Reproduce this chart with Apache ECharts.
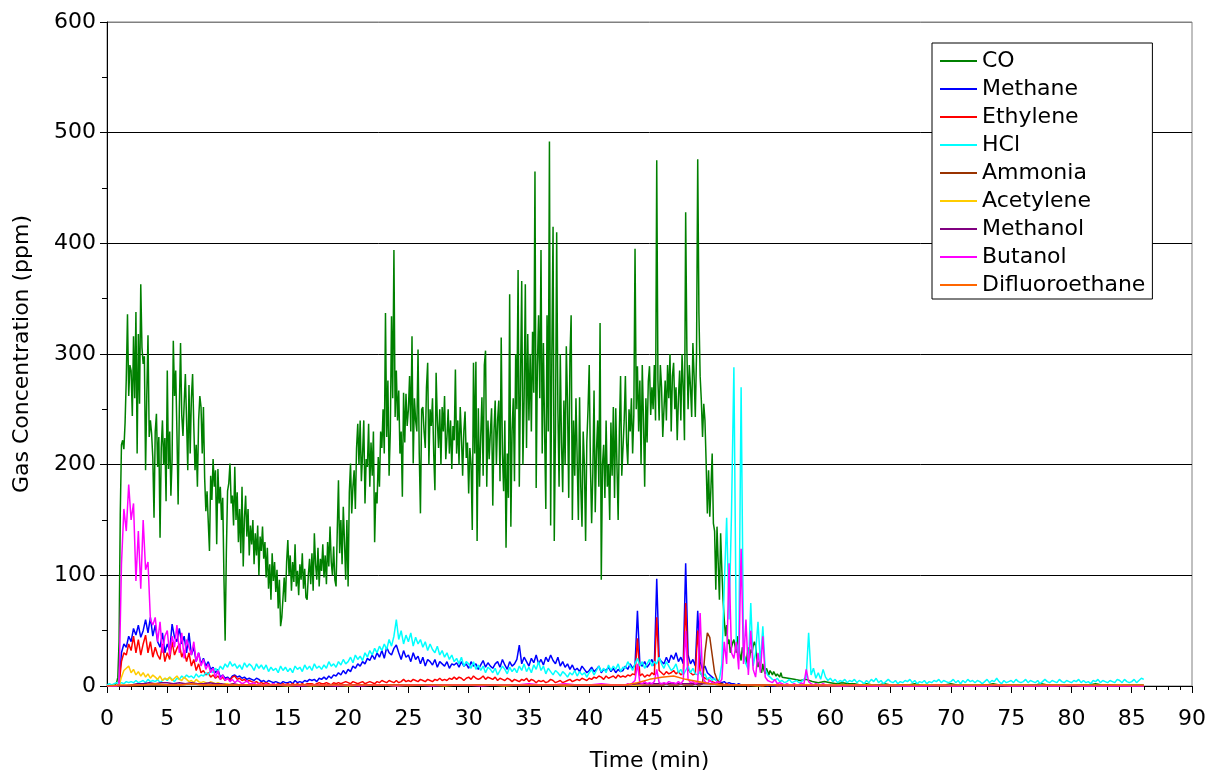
<!DOCTYPE html>
<html>
<head>
<meta charset="utf-8">
<script src="https://cdn.jsdelivr.net/npm/echarts@6/dist/echarts.min.js"></script>
<style>html,body{margin:0;padding:0;background:#fff}#c{width:1206px;height:774px}</style>
</head>
<body>
<div id="c"></div>
<script>
// ---- data (ppm), time in minutes ----
const SERIES_NAMES = ['CO','Methane','Ethylene','HCl','Ammonia','Acetylene','Methanol','Butanol','Difluoroethane'];
const X_TICKS = [0,5,10,15,20,25,30,35,40,45,50,55,60,65,70,75,80,85,90];

// CO: 0.0 - 56.0 min every 0.1 min
const CO_A = [
0,0,0,0,0,0,0,1,3,8,
40,155,218,222,214,238,278,336,262,290,
285,244,316,260,338,210,318,255,363,306,
291,298,195,262,317,225,240,228,206,152,
230,246,198,225,134,215,240,200,224,167,
285,196,230,172,205,312,262,285,230,164,
250,310,245,226,255,282,240,195,272,210,
260,282,235,195,218,180,240,262,252,210,
252,188,158,176,148,122,190,168,205,180,
195,128,196,165,180,150,170,98,41,120,
176,183,201,165,172,145,198,150,175,130,
160,120,180,108,152,172,135,160,118,145,
128,150,110,138,118,145,100,135,122,144,
115,130,98,125,88,110,78,120,95,112,
85,105,70,96,54,62,80,98,76,112,
132,100,118,86,112,94,128,90,104,82,
110,96,120,88,106,80,78,100,115,92,
120,86,138,110,96,125,90,115,104,128,
98,118,92,130,108,144,112,100,126,96,
90,140,186,120,150,110,162,130,96,150,
90,175,201,156,180,195,160,215,237,200,
240,185,210,240,165,205,198,237,180,220,
190,230,130,175,165,207,180,230,215,250,
210,337,225,276,190,230,334,260,394,243,
285,240,267,210,230,171,265,220,264,235,
250,280,230,316,201,260,240,230,304,210,
156,250,252,230,215,270,292,200,250,235,
260,210,177,283,240,215,250,200,252,230,
262,205,225,250,210,240,196,235,222,286,
210,240,200,252,225,190,230,248,206,220,
174,215,200,141,292,210,293,131,251,180,
225,261,190,290,303,180,240,205,229,251,
163,230,258,200,240,258,185,315,210,176,
240,125,210,170,354,144,230,260,185,300,
250,376,180,275,366,200,260,363,215,318,
240,300,230,320,265,465,179,290,335,260,
394,210,310,230,160,335,230,492,145,300,
415,131,230,410,250,180,300,220,175,258,
200,307,255,170,297,335,150,240,190,260,
205,150,261,180,144,230,200,131,220,250,
290,200,147,193,267,157,212,240,180,328,
96,200,218,170,240,180,200,150,238,190,
252,170,251,200,150,230,280,190,215,240,
280,220,200,250,230,260,210,245,395,250,
289,230,276,200,290,240,180,260,220,275,
289,245,270,250,290,240,475,276,240,290,
270,225,250,276,240,290,260,300,230,280,
292,250,270,222,260,285,240,300,270,222,
428,304,250,290,270,243,310,280,243,300,
476,337,280,258,225,255,240,201,156,195,
153,180,210,147,140,87,144,111,78,138,
105,78,60,45,55,38,42,30,35,39,
42,36,30,45,36,28,23,35,30,26,
20,28,35,25,33,30,36,40,36,25,
17,22,15,12,20,14,11,16,13,10,
14,12,10,13,11,9,11,10,8,12,
8];
// CO: 56.5 - 86.0 min every 0.5 min
const CO_B = [
7,6,5,6,4,3,4,3,2,3,
2,2,1,2,1,1,2,1,1,1,
1,2,1,1,1,1,1,2,1,1,
1,1,1,1,2,1,1,1,1,1,
1,1,2,1,1,1,1,1,1,1,
1,2,1,1,1,1,1,1,1,1];

// Methane: 0.0 - 56.0 every 0.2 min
const METHANE_A = [
0,0,0,0,0, 2,30,38,35,45, 40,52,46,55,44, 50,60,48,62,45, 55,40,35,48,30,
38,32,56,44,40, 52,38,45,30,48, 28,35,22,30,20, 25,18,22,15,17, 12,15,8,10,7,
8,6,9,10,8, 9,7,8,6,7, 6,5,7,6,4, 5,3,5,4,3, 4,3,2,4,3,
3,4,2,5,3, 4,3,5,4,6, 5,6,4,7,6, 8,6,9,7,10, 9,12,10,14,11,
15,13,18,16,20, 18,22,20,25,23, 28,24,30,26,32, 25,35,30,28,34, 37,30,24,32,26,
28,22,30,24,27, 20,26,18,24,22, 19,24,17,22,20, 18,22,16,20,19, 21,17,22,18,20,
16,22,18,20,15, 19,23,17,21,18, 16,20,22,17,24, 19,15,22,18,20, 24,37,20,26,22,
18,25,21,28,20, 24,19,26,22,28, 23,20,26,18,22, 17,20,15,19,14, 16,13,18,15,12,
14,17,13,15,18, 12,15,14,17,13, 16,12,15,13,14, 18,15,20,16,19, 68,20,18,22,17,
20,24,18,97,25, 22,20,26,21,28, 24,30,22,26,20, 111,28,20,24,18, 68,22,15,18,12,
10,8,6,5,4, 3,4,2,3,2, 2,1,2,1,1, 1,1,1,1,1, 1,0,1,1,0, 1,0,0,1,0,
0];
// Methane: 57 - 86 every 1 min
const METHANE_B = [0,0,1,0,0,0,0,1,0,0, 0,0,0,1,0,0,0,0,0,0, 1,0,0,0,0,0,0,1,0,0];

// Ethylene: 0.0 - 56.0 every 0.2 min
const ETHYLENE_A = [
0,0,0,0,0, 1,22,30,28,38, 32,45,30,42,28, 38,46,30,40,26, 35,28,24,38,22,
30,24,40,28,34, 38,26,32,22,30, 18,24,14,20,12, 14,10,12,8,10, 7,9,6,8,5,
7,5,8,9,6, 7,5,6,4,5, 4,3,4,2,3, 2,3,2,1,2, 1,2,1,2,1,
2,1,2,1,2, 1,2,1,2,2, 2,1,2,3,2, 2,3,2,1,3, 2,3,2,3,4,
3,2,4,3,2, 3,4,2,3,4, 3,2,4,3,5, 4,3,5,4,3, 5,3,4,6,4,
5,4,6,5,4, 6,5,4,6,5, 4,6,5,7,5, 6,5,7,6,8, 6,8,7,5,7,
8,6,9,7,6, 7,9,6,8,7, 6,8,5,7,6, 5,7,6,4,6, 5,4,6,5,7,
4,6,5,3,5, 4,5,3,4,6, 5,3,4,5,3, 4,5,6,4,5, 6,5,7,6,5,
7,6,8,7,9, 8,6,9,7,8, 9,7,10,8,9, 8,10,9,11,10, 43,9,11,8,10,
9,12,10,62,14, 12,10,13,11,12, 14,11,13,10,12, 75,15,12,10,11, 50,12,9,7,6,
5,4,3,3,2, 2,1,2,1,1, 1,1,1,1,1, 1,0,1,1,1, 1,1,0,1,1, 1,1,1,0,1,
1];
// Ethylene: 57 - 86 every 1 min
const ETHYLENE_B = [1,0,1,0,0,1,0,0,0,1, 0,0,1,0,0,0,1,0,0,0, 0,1,0,0,0,0,1,0,0,0];

// HCl: 0.0 - 86.0 every 0.2 min
const HCL = [
1,2,1,2,3, 2,3,2,4,3, 4,3,5,3,4, 5,3,6,4,5, 4,6,3,5,7,
5,8,6,4,7, 6,9,7,10,8, 9,7,11,8,10, 9,12,10,14,12, 16,13,18,15,20,
17,22,18,20,16, 19,15,21,17,20, 18,14,20,16,19, 15,19,13,17,14, 16,12,18,14,17,
13,16,12,18,15, 17,13,19,15,18, 14,20,16,18,15, 19,16,22,18,20, 17,22,19,24,20,
22,26,21,28,24, 27,23,30,26,32, 28,34,30,36,32, 38,33,42,36,45, 60,42,50,38,46,
40,48,36,44,38, 42,35,40,32,38, 33,30,36,28,32, 26,30,24,28,22, 25,20,26,18,22,
20,16,22,15,19, 14,18,12,17,15, 12,16,10,14,18, 15,11,17,13,16, 12,18,14,20,13,
17,12,19,15,22, 14,18,11,16,13, 10,14,12,9,13, 11,8,12,10,14, 9,13,10,12,8,
12,15,10,14,18, 13,16,12,19,14, 18,15,20,13,17, 16,22,18,14,20, 25,18,22,16,20,
24,18,22,20,26, 20,16,22,18,14, 16,20,12,15,10, 14,18,12,16,11, 10,13,8,11,6,
8,5,7,4,6, 20,90,152,60,155, 288,40,25,270,30, 20,15,75,18,30, 58,20,54,15,10,
8,6,5,7,4, 5,3,4,6,3, 4,5,3,4,6, 8,48,10,16,7, 12,6,15,8,5,
7,4,6,3,5, 4,6,3,5,4, 6,3,5,4,2, 5,3,6,4,7, 3,5,2,4,6,
4,3,5,2,4, 3,5,4,6,3, 5,2,4,3,5, 2,4,3,5,4, 6,3,5,4,3,
4,6,3,5,2, 5,3,6,4,5, 3,5,4,2,4, 6,3,5,4,7, 4,2,5,3,4,
5,3,6,4,3, 4,6,3,5,4, 3,5,2,4,6, 4,3,5,4,3, 6,4,3,5,4,
3,5,4,6,3, 5,3,4,2,5, 4,6,3,5,4, 3,5,4,3,6, 5,3,6,4,3,
4,6,3,5,7,
6];

// Ammonia: 0-44 every 1 min, 44.2-52.0 every 0.2 min, 53-86 every 1 min
const AMMONIA_A = [0,0,0,1,1,1,1,2,1,1, 1,1,1,0,1,1,1,1,0,1, 1,1,1,1,1,0,1,1,1,1, 1,1,1,1,1,1,1,1,1,1, 1,1,1,1,1];
const AMMONIA_B = [1,1,1,1,1, 1,1,1,1,1, 1,2,1,1,1, 1,1,2,1,1, 1,1,1,2,1, 1,2, 30,48,44,28,12,6,3,2,1,1,1,1,1];
const AMMONIA_C = [1,1,1,1,0,1,0,0,1,0, 0,0,0,1,0,0,0,0,0,0, 1,0,0,0,0,0,0,0,1,0, 0,0,0,0];

// Acetylene: 0-11.8 every 0.2 min, 12-86 every 1 min
const ACETYLENE_A = [
0,0,0,0,0, 0,8,14,16,18, 12,15,10,13,9, 12,8,11,7,10, 8,6,9,5,7, 6,8,5,7,9,
6,5,8,6,4, 5,3,6,4,3, 4,3,2,4,3, 2,3,2,1,2, 2,1,2,1,1, 1,2,1,1,1];
const ACETYLENE_B = [1,1,1,0,1,0,1,1,0,1, 1,1,0,1,1,1,0,1,1,1, 1,0,1,1,1,1,0,1,1,1, 1,1,1,2,2,2,2,3,2,1,
1,1,0,1,0,0,1,0,0,0, 0,1,0,0,0,0,1,0,0,0, 0,0,1,0,0,0,0,0,1,0, 0,0,1,0,0];

// Methanol: 0-12 every 0.5 min, 13-86 every 1 min
const METHANOL_A = [0,0,0,0,1,2,2,3,2,3,3,2,3,2,3,2,2,3,2,2,1,2,1,1,1];
const METHANOL_B = [1,1,1,1,1,1,1,1,1,1, 1,1,1,1,1,1,1,1,1,1, 1,1,1,1,1,1,1,1,1,1, 1,2,2,2,2,2,2,2,1,1,
1,1,1,0,0,0,0,0,0,0, 0,0,0,0,0,0,0,0,0,0, 0,0,0,0,0,0,0,0,0,0, 0,0,0,0];

// Butanol: 0-13.8 every 0.2, 14-42 every 1, 43-59.8 every 0.2, 60-86 every 1
const BUTANOL_A = [
0,0,0,0,0, 2,110,160,140,182, 150,165,95,140,88, 150,105,112,60,55, 62,40,58,30,45,
50,28,45,35,55, 30,48,25,42,35, 28,40,22,30,18, 24,15,20,12,16, 8,14,6,10,5,
7,4,6,3,5, 4,2,3,5,2, 2,3,1,2,1, 1,2,1,1,2];
const BUTANOL_B = [1,1,0,1,1,0,1,0,1,1, 0,1,1,0,1,1,1,0,1,1, 1,2,1,1,2,1,1,2,1];
const BUTANOL_C = [
1,2,1,3,5, 20,3,2,4,2, 3,2,4,15,3, 2,3,2,4,3, 3,2,4,2,5, 50,6,3,4,2, 3,66,8,4,2,
5,3,2,4,3, 6,40,20,111,30, 25,40,15,124,20, 60,10,50,15,8, 30,12,45,8,5,
4,3,6,2,3, 2,1,2,1,1, 2,1,1,3,1, 15,4,2,1,2, 1,1,2,1,1];
const BUTANOL_D = [1,0,1,0,0,1,0,0,0,1, 0,0,0,0,1,0,0,0,0,0, 1,0,0,0,0,0,0];

// Difluoroethane: 0-86 every 1 min
const DIFLUOROETHANE = [0,1,1,1,2,1,1,2,1,1, 1,1,1,1,1,1,1,1,1,1, 1,1,1,1,1,1,1,1,1,1, 1,1,1,1,1,1,1,1,1,1,
1,1,1,1,3,6,8,9,6,4, 2,1,1,1,1,1,1,1,1,1, 1,1,1,1,1,1,1,1,1,1, 1,1,1,1,1,1,1,1,1,1, 1,1,1,1,1,1,1];

const COLORS = ['#008000','#0000FF','#FF0000','#00FFFF','#993300','#FFCC00','#800080','#FF00FF','#FF6600'];

// ---- build ----
function seg(t0, step, vals) { return vals.map((v, i) => [+(t0 + i * step).toFixed(3), v]); }
const seriesData = [
  seg(0, 0.1, CO_A).concat(seg(56.5, 0.5, CO_B)),
  seg(0, 0.2, METHANE_A).concat(seg(57, 1, METHANE_B)),
  seg(0, 0.2, ETHYLENE_A).concat(seg(57, 1, ETHYLENE_B)),
  seg(0, 0.2, HCL),
  seg(0, 1, AMMONIA_A).concat(seg(44.2, 0.2, AMMONIA_B), seg(53, 1, AMMONIA_C)),
  seg(0, 0.2, ACETYLENE_A).concat(seg(12, 1, ACETYLENE_B)),
  seg(0, 0.5, METHANOL_A).concat(seg(13, 1, METHANOL_B)),
  seg(0, 0.2, BUTANOL_A).concat(seg(14, 1, BUTANOL_B), seg(43, 0.2, BUTANOL_C), seg(60, 1, BUTANOL_D)),
  seg(0, 1, DIFLUOROETHANE)
];

const FONT = 'DejaVu Sans';
const chart = echarts.init(document.getElementById('c'), null, { renderer: 'canvas' });
chart.setOption({
  animation: false,
  backgroundColor: '#ffffff',
  grid: { left: 107, right: 14, top: 22, bottom: 88, show: true, borderColor: '#808080', borderWidth: 1,
          containLabel: false, outerBoundsMode: 'none' },
  legend: {
    orient: 'vertical', left: 932, top: 43,
    padding: [7, 7, 3, 8],
    itemGap: 6, itemWidth: 37, itemHeight: 2, icon: 'rect',
    backgroundColor: '#ffffff', borderColor: '#000000', borderWidth: 1, borderRadius: 0,
    textStyle: { fontFamily: FONT, fontSize: 22, color: '#000', lineHeight: 22 },
    data: SERIES_NAMES
  },
  xAxis: {
    type: 'value', min: 0, max: 90, interval: 5,
    name: 'Time (min)', nameLocation: 'middle', nameGap: 64,
    nameTextStyle: { fontFamily: FONT, fontSize: 22, color: '#000' },
    axisLine: { show: true, onZero: false, lineStyle: { color: '#000', width: 1 } },
    axisTick: { show: true, length: 7, lineStyle: { color: '#000' } },
    minorTick: { show: true, splitNumber: 5, length: 4, lineStyle: { color: '#000' } },
    axisLabel: { fontFamily: FONT, fontSize: 22, color: '#000', margin: 22,
      formatter: v => X_TICKS.indexOf(v) >= 0 ? String(v) : '' },
    splitLine: { show: false }
  },
  yAxis: {
    type: 'value', min: 0, max: 600, interval: 100,
    name: 'Gas Concentration (ppm)', nameLocation: 'middle', nameGap: 74, nameRotate: 90,
    nameTextStyle: { fontFamily: FONT, fontSize: 22, color: '#000' },
    axisLine: { show: true, lineStyle: { color: '#000', width: 1 } },
    axisTick: { show: true, length: 7, lineStyle: { color: '#000' } },
    minorTick: { show: true, splitNumber: 2, length: 5, lineStyle: { color: '#000' } },
    axisLabel: { fontFamily: FONT, fontSize: 22, color: '#000', margin: 11 },
    splitLine: { show: true, lineStyle: { color: ['#000','#000','#000','#000','#000','#000','#808080'], width: 1 } }
  },
  series: SERIES_NAMES.map((n, i) => ({
    name: n, type: 'line', data: seriesData[i],
    showSymbol: false, symbol: 'none', sampling: null,
    lineStyle: { color: COLORS[i], width: 1.5 },
    itemStyle: { color: COLORS[i] },
    emphasis: { disabled: true }
  }))
});
</script>
</body>
</html>
